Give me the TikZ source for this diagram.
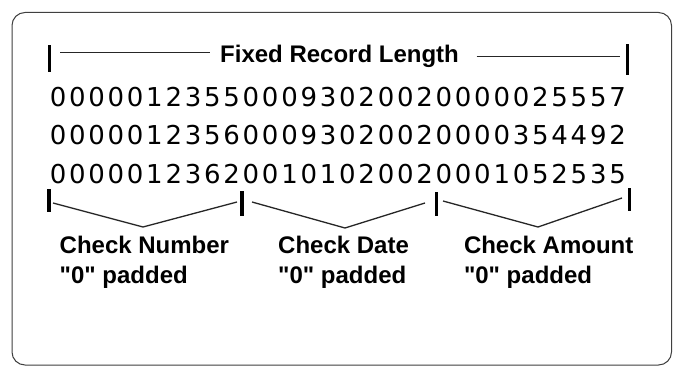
\documentclass[tikz,border=0pt]{standalone}
\usepackage{fontspec}
\setmainfont{Liberation Sans}
\newfontfamily\digfont{DejaVu Sans}
\newcommand\digrow[1]{\digloop#1\relax}
\def\digloop#1{\ifx\relax#1\else\makebox[19.3pt]{#1}\expandafter\digloop\fi}
\newcommand\qq{\textquotedbl}
\tikzset{
  barnode/.style={fill=black, draw=none, inner sep=0pt, minimum width=3.6pt},
  digrowstyle/.style={anchor=base west, inner sep=0pt, font=\digfont\fontsize{26}{30}\selectfont},
  lbl/.style={anchor=base west, inner sep=0pt, font=\bfseries\fontsize{24}{28}\selectfont},
  rule/.style={line width=1.2pt, draw=black!85},
  brace/.style={line width=1.3pt, draw=black!85, line join=miter},
}
\begin{document}
\begin{tikzpicture}[x=1pt,y=-1pt]
\useasboundingbox (0,0) rectangle (673,369);
\fill[white] (0,0) rectangle (673,369);
\draw[rounded corners=13pt, draw=black!75, line width=1pt] (12,12.5) rectangle (671.5,365);
% title
\node[lbl] (title) at (220,62.5) {Fixed Record Length};
\node[barnode, minimum height=27pt] (tl) at (49.5,58.4) {};
\node[barnode, minimum height=31pt] (tr) at (627.5,59.2) {};
\coordinate (la) at (60,52.3);
\coordinate (lb) at (210,52.3);
\coordinate (ra) at (476.7,56.7);
\coordinate (rb) at (620,56.7);
\draw[rule] (la) -- (lb);
\draw[rule] (ra) -- (rb);
% digits
\node[digrowstyle] (r1) at (48.2,106.5) {\digrow{000001235500093020020000025557}};
\node[digrowstyle] (r2) at (48.2,145) {\digrow{000001235600093020020000354492}};
\node[digrowstyle] (r3) at (48.2,183.5) {\digrow{000001236200101020020001052535}};
% field bars
\node[barnode, minimum height=23pt] (b1) at (49,200.5) {};
\node[barnode, minimum height=25pt] (b2) at (242,203.5) {};
\node[barnode, minimum height=24pt] (b3) at (436.5,203.5) {};
\node[barnode, minimum height=23pt] (b4) at (629.5,199.5) {};
% braces
\coordinate (p1a) at (53,203);
\coordinate (p1m) at (143,227);
\coordinate (p1b) at (237,202);
\coordinate (p2a) at (252,202);
\coordinate (p2m) at (345,228);
\coordinate (p2b) at (425,203);
\coordinate (p3a) at (443,201);
\coordinate (p3m) at (538,227);
\coordinate (p3b) at (622,198);
\draw[brace] (p1a) -- (p1m) -- (p1b);
\draw[brace] (p2a) -- (p2m) -- (p2b);
\draw[brace] (p3a) -- (p3m) -- (p3b);
% labels
\node[lbl] (n1) at (59.5,253.3) {Check Number};
\node[lbl] (n2) at (59.5,283) {\qq0\qq{} padded};
\node[lbl] (d1) at (278,253.3) {Check Date};
\node[lbl] (d2) at (278,283) {\qq0\qq{} padded};
\node[lbl] (a1) at (463.8,253.3) {Check Amount};
\node[lbl] (a2) at (463.8,283) {\qq0\qq{} padded};
\end{tikzpicture}
\end{document}
